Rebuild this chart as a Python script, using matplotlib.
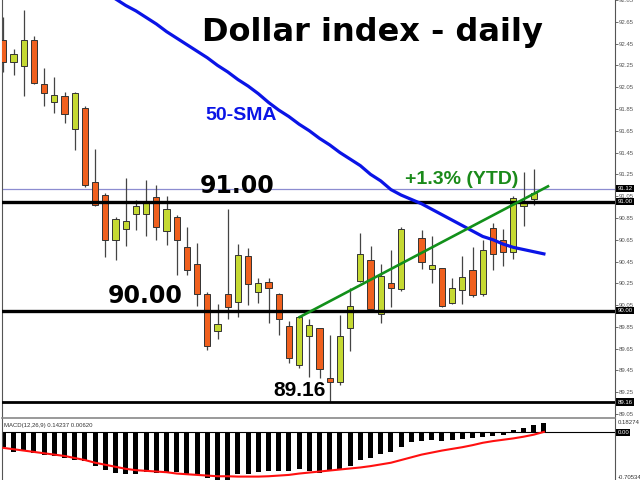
import numpy as np
import matplotlib.pyplot as plt

# candle data (index, open, high, low, close); index 40 had no bar
idx = list(range(53))
opens = [92.48, 92.28, 92.24, 92.48, 92.08, 91.91, 91.97, 91.67, 91.86, 91.18,
         91.06, 90.65, 90.75, 90.89, 90.89, 91.04, 90.73, 90.86, 90.58, 90.43,
         90.15, 89.81, 90.15, 90.08, 90.50, 90.17, 90.26, 90.15, 89.86, 89.50,
         89.77, 89.84, 89.38, 89.34, 89.84, 90.27, 90.46, 89.97, 90.25, 90.20,
         np.nan, 90.67, 90.38, 90.39, 90.07, 90.19, 90.37, 90.15, 90.76, 90.65,
         90.54, 90.96, 91.02]
highs = [92.69, 92.40, 92.76, 92.52, 92.23, 92.14, 92.01, 92.01, 91.88, 91.48,
         91.08, 90.86, 91.22, 91.01, 91.20, 91.15, 91.05, 90.88, 90.77, 90.62,
         90.17, 90.06, 90.93, 90.61, 90.57, 90.30, 90.30, 90.16, 89.90, 89.95,
         89.92, 89.84, 89.78, 89.96, 90.21, 90.71, 90.59, 90.43, 90.56, 90.77,
         np.nan, 90.74, 90.68, 90.39, 90.30, 90.50, 90.58, 90.65, 90.80, 90.75,
         91.05, 91.27, 91.30]
lows = [92.19, 92.16, 91.97, 92.08, 91.88, 91.81, 91.72, 91.47, 91.13, 90.96,
        90.49, 90.46, 90.59, 90.74, 90.68, 90.65, 90.60, 90.33, 90.33, 90.04,
        89.64, 89.74, 89.92, 89.94, 90.05, 90.07, 89.89, 89.78, 89.52, 89.47,
        89.39, 89.38, 89.16, 89.32, 89.63, 90.26, 90.00, 89.89, 90.03, 90.18,
        np.nan, 90.38, 90.25, 90.03, 90.06, 90.06, 90.12, 90.13, 90.37, 90.41,
        90.47, 90.78, 90.97]
closes = [92.28, 92.35, 92.48, 92.09, 92.00, 91.98, 91.80, 92.00, 91.15, 90.97,
          90.65, 90.84, 90.82, 90.96, 90.99, 90.77, 90.93, 90.65, 90.37, 90.15,
          89.67, 89.88, 90.03, 90.51, 90.24, 90.25, 90.21, 89.92, 89.56, 89.94,
          89.87, 89.46, 89.34, 89.77, 90.04, 90.52, 90.01, 90.32, 90.21, 90.75,
          np.nan, 90.45, 90.42, 90.04, 90.21, 90.31, 90.14, 90.56, 90.52, 90.54,
          91.03, 90.99, 91.08]

# 50-SMA from bar 11 to bar 53
sma_idx = list(range(11, 54))
sma = [92.86, 92.80, 92.75, 92.69, 92.63, 92.56, 92.50, 92.44, 92.38, 92.32,
       92.25, 92.19, 92.12, 92.06, 91.99, 91.91, 91.84, 91.78, 91.71, 91.65,
       91.58, 91.52, 91.45, 91.39, 91.33, 91.25, 91.19, 91.11, 91.06, 91.02,
       90.98, 90.93, 90.88, 90.83, 90.78, 90.73, 90.68, 90.65, 90.61, 90.58,
       90.56, 90.54, 90.52]

# MACD(12,26,9)
macd_idx = list(range(54))
macd_hist = [-0.21, -0.29, -0.28, -0.30, -0.34, -0.35, -0.38, -0.41, -0.43, -0.50,
             -0.56, -0.60, -0.61, -0.61, -0.58, -0.60, -0.60, -0.58, -0.61, -0.63,
             -0.68, -0.705, -0.70, -0.62, -0.62, -0.58, -0.57, -0.57, -0.57, -0.55,
             -0.57, -0.60, -0.56, -0.55, -0.50, -0.41, -0.38, -0.32, -0.29, -0.21,
             -0.15, -0.13, -0.11, -0.13, -0.11, -0.10, -0.09, -0.07, -0.055, -0.04,
             0.03, 0.07, 0.11, 0.14237]
macd_signal = [-0.23, -0.25, -0.27, -0.29, -0.31, -0.33, -0.35, -0.38, -0.41, -0.45,
               -0.48, -0.51, -0.54, -0.56, -0.57, -0.58, -0.59, -0.61, -0.62, -0.63,
               -0.64, -0.65, -0.65, -0.655, -0.655, -0.655, -0.65, -0.64, -0.63, -0.61,
               -0.595, -0.58, -0.565, -0.55, -0.535, -0.52, -0.50, -0.475, -0.45, -0.41,
               -0.37, -0.33, -0.30, -0.27, -0.245, -0.22, -0.19, -0.155, -0.13, -0.11,
               -0.09, -0.065, -0.035, 0.0062]

# levels and trend line
levels = [91.00, 90.00, 89.16]
last_price = 91.12
trend_x = [29.05, 53.4]
trend_y = [89.94, 91.14]
right_ticks = [92.85, 92.65, 92.45, 92.25, 92.05, 91.85, 91.65, 91.45, 91.25, 91.05,
               90.85, 90.65, 90.45, 90.25, 90.05, 89.85, 89.65, 89.45, 89.25, 89.05]

UP = '#c5d932'
DOWN = '#f0601e'
W, H = 640, 480
LBL = 4.3

fig = plt.figure(figsize=(6.4, 4.8), dpi=100)
ax = fig.add_axes([2 / W, 1 - 418 / H, 613 / W, 418 / H])
mx = fig.add_axes([2 / W, 0, 613 / W, 61 / H])

xlim = (-0.13, 59.97)

# candles
o = np.array(opens); c = np.array(closes)
hi = np.array(highs); lo = np.array(lows)
ok = ~np.isnan(o)
x = np.array(idx)[ok]
ax.vlines(x, lo[ok], hi[ok], color='#444444', lw=0.9, zorder=2)
bot = np.minimum(o, c)[ok]
hgt = np.maximum(np.abs(c - o)[ok], 0.03)
cols = [UP if cc >= oo else DOWN for oo, cc in zip(o[ok], c[ok])]
ax.bar(x, hgt, bottom=bot, width=0.62, color=cols, edgecolor='#333333',
       linewidth=0.7, zorder=3)

# levels
for lv in levels:
    ax.axhline(lv, color='black', lw=2.4 if lv != 89.16 else 2.0, zorder=4)
ax.axhline(last_price, color='#8c8cd0', lw=0.9, zorder=1)

ax.plot(sma_idx, sma, color='#0a14e6', lw=2.3, zorder=5)
ax.plot(trend_x, trend_y, color='#12901a', lw=1.9, zorder=5)

ax.set_xlim(*xlim)
ax.set_ylim(91 - 216.5 / 109, 91 + 201.5 / 109)
ax.yaxis.tick_right()
ax.set_yticks(right_ticks)
ax.set_yticklabels(['%.2f' % t for t in right_ticks], fontsize=LBL,
                   family='Liberation Sans', color='#333333')
ax.tick_params(axis='y', length=2, width=0.6, pad=1, colors='#555555')
ax.set_xticks([])
ax.spines['top'].set_visible(False)
ax.spines['left'].set_color('#555555')
ax.spines['right'].set_color('#555555')
ax.spines['bottom'].set_color('#888888')
ax.spines['bottom'].set_linewidth(1.2)

for lv in [last_price] + levels:
    ax.text(1.004, lv, '%.2f' % lv, transform=ax.get_yaxis_transform(),
            fontsize=LBL, family='Liberation Sans', color='white', va='center',
            ha='left', zorder=10,
            bbox=dict(boxstyle='square,pad=0.2', fc='black', ec='none'))

# MACD panel
mx.bar(macd_idx, macd_hist, width=0.5, color='black', zorder=2)
mx.plot(macd_idx, macd_signal, color='#ff1010', lw=1.5, zorder=3)
mx.axhline(0, color='black', lw=0.8, zorder=1)
mx.set_xlim(*xlim)
mx.set_ylim(-0.70534, 0.197)
mx.set_xticks([])
mx.yaxis.tick_right()
mx.set_yticks([0.16, -0.665])
mx.set_yticklabels(['0.18274', '-0.70534'], fontsize=LBL,
                   family='Liberation Sans', color='#333333')
mx.tick_params(axis='y', length=0, pad=2)
for s in ['top', 'bottom']:
    mx.spines[s].set_visible(False)
mx.spines['left'].set_color('#555555')
mx.spines['right'].set_color('#555555')
mx.text(1.004, 0, '0.00', transform=mx.get_yaxis_transform(), fontsize=LBL,
        family='Liberation Sans', color='white', va='center', ha='left',
        bbox=dict(boxstyle='square,pad=0.2', fc='black', ec='none'))
mx.text(0.004, 0.93, 'MACD(12,26,9) 0.14237 0.00620', transform=mx.transAxes,
        fontsize=LBL, family='Liberation Sans', color='#333333', va='top')

# annotations (pixel positions)
def px(xp, yp):
    return xp / W, 1 - yp / H

fig.text(*px(372, 33), 'Dollar index - daily', fontsize=23, fontweight='bold',
         ha='center', va='center', color='black')
fig.text(*px(205, 116), '50-SMA', fontsize=14, fontweight='bold',
         family='Liberation Sans', color='#0a14e6', ha='left', va='center')
fig.text(*px(200, 186), '91.00', fontsize=17, fontweight='bold', color='black',
         ha='left', va='center')
fig.text(*px(108, 296), '90.00', fontsize=17, fontweight='bold', color='black',
         ha='left', va='center')
fig.text(*px(273, 390), '89.16', fontsize=15, fontweight='bold',
         family='Liberation Sans', color='black', ha='left', va='center')
fig.text(*px(405, 180), '+1.3% (YTD)', fontsize=14, fontweight='bold',
         family='Liberation Sans', color='#1a8a1a', ha='left', va='center')

fig.savefig('out.png', dpi=100)
